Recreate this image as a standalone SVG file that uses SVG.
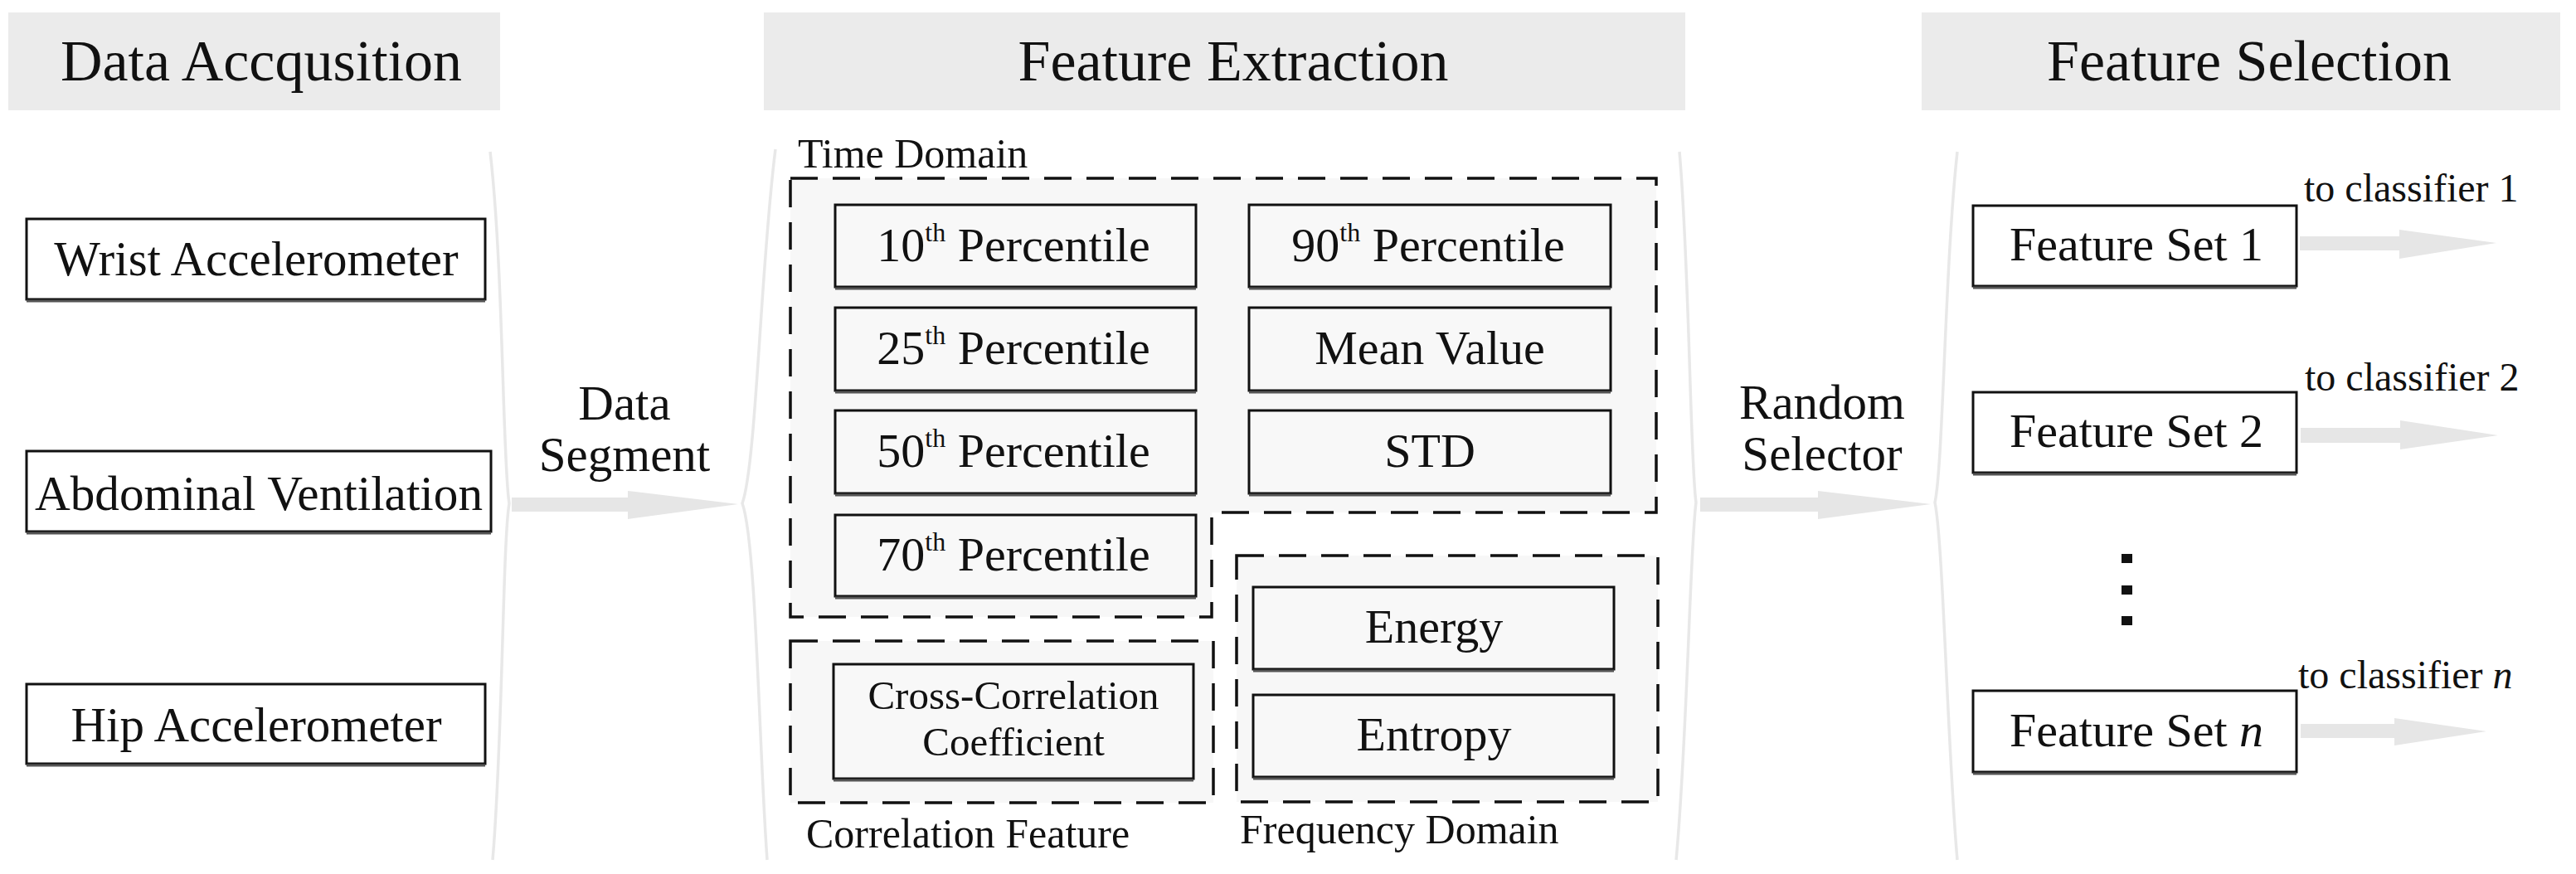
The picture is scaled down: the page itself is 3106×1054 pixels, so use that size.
<svg xmlns="http://www.w3.org/2000/svg" width="3106" height="1054" viewBox="0 0 3106 1054">
<defs>
<style>
text{font-family:"Liberation Serif","Times New Roman",serif;fill:#111;}
.hdr{fill:#ebebeb;}
.ht{font-size:70px;text-anchor:middle;}
.bt{font-size:59px;text-anchor:middle;}
.bt2{font-size:58px;text-anchor:middle;}
.cc{font-size:49px;text-anchor:middle;}
.lbl{font-size:50px;}
.cls{font-size:48px;}
.sep{fill:none;stroke:#e8e8e8;stroke-width:3.5;}
.arr{fill:#e6e6e6;}
.box{fill:#ffffff;stroke:#111;stroke-width:3;}
.gbox{fill:#f8f8f8;stroke:#111;stroke-width:3;}
.shadow{stroke:#555;stroke-width:3;}
.dash{fill:#f7f7f7;stroke:#111;stroke-width:3.5;stroke-dasharray:33 18;}
.dot{fill:#111;}
</style>
</defs>
<rect width="3106" height="1054" fill="#ffffff"/>

<g id="headers">
<g id="hdr-acq"><rect class="hdr" x="10" y="15" width="593" height="118"/><text class="ht" x="315" y="97">Data Accqusition</text></g>
<g id="hdr-ext"><rect class="hdr" x="921" y="15" width="1111" height="118"/><text class="ht" x="1487" y="97">Feature Extraction</text></g>
<g id="hdr-sel"><rect class="hdr" x="2317" y="15" width="770" height="118"/><text class="ht" x="2712" y="97">Feature Selection</text></g>
</g>

<g id="connectors">
<path class="sep" d="M591,183 C607,320 606,560 614,607 C606,654 606,900 594,1037"/>
<path class="sep" d="M935,180 C917,320 912,560 895,607 C912,654 915,900 925,1037"/>
<path class="sep" d="M2025,183 C2037,320 2038,560 2045,606 C2038,654 2034,900 2021,1037"/>
<path class="sep" d="M2360,183 C2345,320 2343,560 2333,606 C2343,654 2348,900 2360,1037"/>
<polygon class="arr" points="617,600 757,600 757,592 890,608 757,626 757,617 617,617"/>
<polygon class="arr" points="2050,600 2192,600 2192,592 2328,608 2192,626 2192,617 2050,617"/>
<polygon class="arr" points="2773,285 2893,285 2893,277 3010,293 2893,312 2893,302 2773,302"/>
<polygon class="arr" points="2774,516 2894,516 2894,507 3012,525 2894,542 2894,534 2774,534"/>
<polygon class="arr" points="2774,873 2887,873 2887,866 2998,882 2887,899 2887,890 2774,890"/>
<text class="bt" x="753" y="506">Data</text>
<text class="bt" x="753" y="568">Segment</text>
<text class="bt" x="2197" y="505">Random</text>
<text class="bt" x="2197" y="567">Selector</text>
<text class="cls" x="2778" y="243">to classifier 1</text>
<text class="cls" x="2779" y="471">to classifier 2</text>
<text class="cls" x="2771" y="830">to classifier <tspan font-style="italic">n</tspan></text>
</g>

<g id="wrist"><rect class="box" x="32" y="264" width="553" height="97"/><line class="shadow" x1="32" y1="363" x2="585" y2="363"/><text class="bt" x="309" y="332">Wrist Accelerometer</text></g>
<g id="abdominal"><rect class="box" x="32" y="544" width="560" height="97"/><line class="shadow" x1="32" y1="643" x2="592" y2="643"/><text class="bt" x="312" y="615" textLength="540" lengthAdjust="spacingAndGlyphs">Abdominal Ventilation</text></g>
<g id="hip"><rect class="box" x="32" y="825" width="553" height="96"/><line class="shadow" x1="32" y1="923" x2="585" y2="923"/><text class="bt" x="309" y="894">Hip Accelerometer</text></g>

<g id="time-domain">
<path class="dash" d="M953,215 H1997 V618 H1461 V744 H953 Z"/>
<text class="lbl" x="962" y="202">Time Domain</text>
</g>
<g id="correlation-feature">
<rect class="dash" x="953" y="773" width="510" height="195"/>
<text class="lbl" x="972" y="1022">Correlation Feature</text>
</g>
<g id="frequency-domain">
<rect class="dash" x="1491" y="670" width="508" height="297"/>
<text class="lbl" x="1495" y="1017">Frequency Domain</text>
</g>

<g id="p10"><rect class="gbox" x="1007" y="247" width="435" height="99"/><line class="shadow" x1="1007" y1="348" x2="1442" y2="348"/><text class="bt2" x="1222" y="315">10<tspan font-size="32" dy="-24">th</tspan><tspan dy="24"> Percentile</tspan></text></g>
<g id="p90"><rect class="gbox" x="1506" y="247" width="436" height="99"/><line class="shadow" x1="1506" y1="348" x2="1942" y2="348"/><text class="bt2" x="1722" y="315">90<tspan font-size="32" dy="-24">th</tspan><tspan dy="24"> Percentile</tspan></text></g>
<g id="p25"><rect class="gbox" x="1007" y="371" width="435" height="100"/><line class="shadow" x1="1007" y1="473" x2="1442" y2="473"/><text class="bt2" x="1222" y="439">25<tspan font-size="32" dy="-24">th</tspan><tspan dy="24"> Percentile</tspan></text></g>
<g id="mean"><rect class="gbox" x="1506" y="371" width="436" height="100"/><line class="shadow" x1="1506" y1="473" x2="1942" y2="473"/><text class="bt2" x="1724" y="439">Mean Value</text></g>
<g id="p50"><rect class="gbox" x="1007" y="495" width="435" height="100"/><line class="shadow" x1="1007" y1="597" x2="1442" y2="597"/><text class="bt2" x="1222" y="563">50<tspan font-size="32" dy="-24">th</tspan><tspan dy="24"> Percentile</tspan></text></g>
<g id="std"><rect class="gbox" x="1506" y="495" width="436" height="100"/><line class="shadow" x1="1506" y1="597" x2="1942" y2="597"/><text class="bt2" x="1724" y="563">STD</text></g>
<g id="p70"><rect class="gbox" x="1007" y="621" width="435" height="98"/><line class="shadow" x1="1007" y1="721" x2="1442" y2="721"/><text class="bt2" x="1222" y="688">70<tspan font-size="32" dy="-24">th</tspan><tspan dy="24"> Percentile</tspan></text></g>
<g id="cross"><rect class="gbox" x="1005" y="801" width="434" height="138"/><line class="shadow" x1="1005" y1="941" x2="1439" y2="941"/><text class="cc" x="1222" y="855">Cross-Correlation</text><text class="cc" x="1222" y="911">Coefficient</text></g>
<g id="energy"><rect class="gbox" x="1511" y="708" width="435" height="99"/><line class="shadow" x1="1511" y1="809" x2="1946" y2="809"/><text class="bt2" x="1729" y="775">Energy</text></g>
<g id="entropy"><rect class="gbox" x="1511" y="838" width="435" height="99"/><line class="shadow" x1="1511" y1="939" x2="1946" y2="939"/><text class="bt2" x="1729" y="905">Entropy</text></g>

<g id="fs1"><rect class="box" x="2379" y="248" width="390" height="97"/><line class="shadow" x1="2379" y1="347" x2="2769" y2="347"/><text class="bt2" x="2576" y="314">Feature Set 1</text></g>
<g id="fs2"><rect class="box" x="2379" y="473" width="390" height="97"/><line class="shadow" x1="2379" y1="572" x2="2769" y2="572"/><text class="bt2" x="2576" y="539">Feature Set 2</text></g>
<g id="dots"><rect class="dot" x="2558" y="668" width="13" height="11"/><rect class="dot" x="2558" y="706" width="13" height="11"/><rect class="dot" x="2558" y="743" width="13" height="11"/></g>
<g id="fsn"><rect class="box" x="2379" y="833" width="390" height="98"/><line class="shadow" x1="2379" y1="933" x2="2769" y2="933"/><text class="bt2" x="2576" y="900">Feature Set <tspan font-style="italic">n</tspan></text></g>
</svg>
